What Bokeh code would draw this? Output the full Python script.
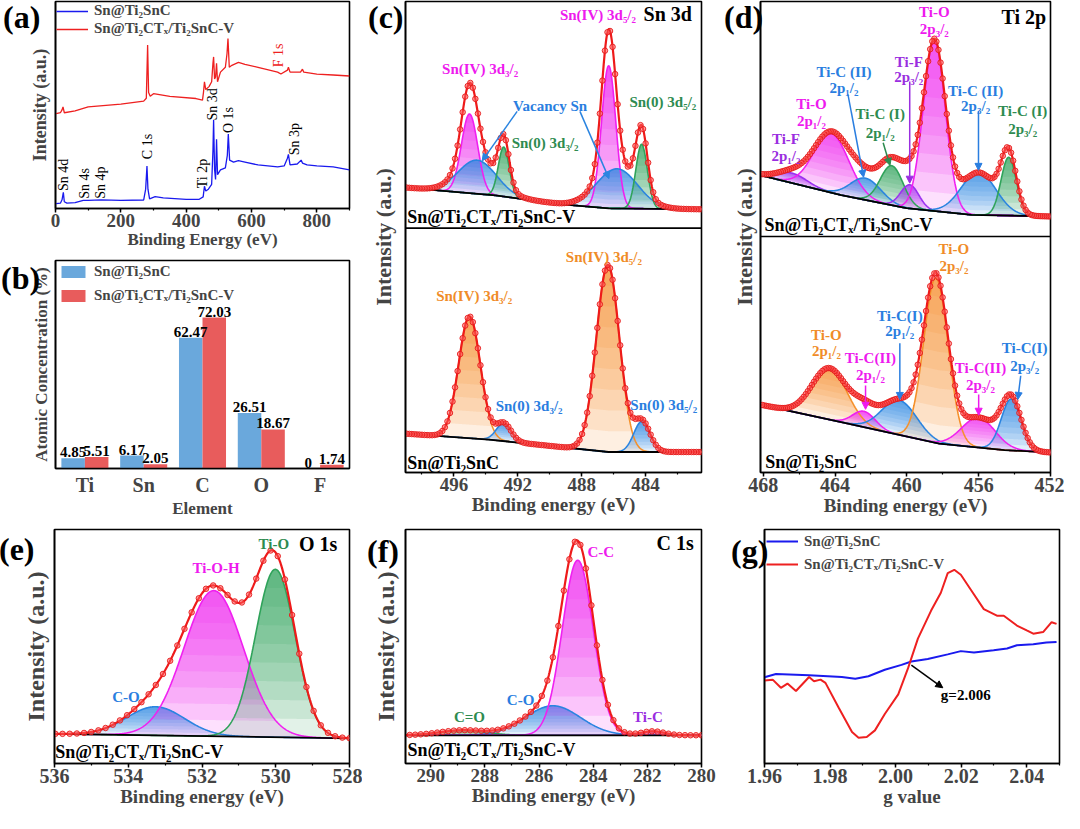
import numpy as np
from bokeh.plotting import figure
from bokeh.layouts import row, column
from bokeh.models import (Range1d, FactorRange, SingleIntervalTicker, FixedTicker, Span, Div,
                          Arrow, NormalHead, Legend, LegendItem, ColumnDataSource, NumeralTickFormatter)
from bokeh.transform import dodge
from bokeh.core.properties import value
from bokeh.embed import file_html
from bokeh.resources import INLINE

FONT = "Liberation Serif"

# ================= DATA =================
# (a) XPS survey (binding energy eV, intensity a.u.)
survey_be_ti2snc = [2, 15, 20, 24, 27, 35, 60, 85, 100, 140, 200, 270, 276, 280, 283, 288, 305, 330, 400, 440,
                    452, 456, 460, 468, 478, 482, 484, 487, 490, 493, 496, 505, 520, 526, 529, 533, 545, 560, 580, 620,
                    680, 700, 710, 713, 718, 740, 752, 756, 770, 800, 850, 900]
survey_ti2snc = [5, 5.5, 9, 16.7, 7, 5.5, 6, 8.3, 8.5, 9, 8.5, 8.8, 20, 44, 20, 10, 12.3, 11, 9.5, 9.5,
                 12, 23, 18, 20, 25, 60, 91.7, 40, 30, 71.7, 35, 40, 42, 55, 77, 50, 48, 49.5, 48, 45,
                 43, 44, 52, 56, 45, 46, 50, 47, 45, 44, 43, 40]
survey_be_v = [2, 15, 20, 23, 27, 60, 100, 200, 270, 278, 282, 285, 290, 300, 350, 430, 450, 453, 456, 460,
               470, 478, 482, 484, 487, 490, 493, 496, 505, 520, 525, 528, 532, 540, 560, 580, 620, 680, 690, 710,
               713, 718, 750, 756, 760, 800, 850, 900]
survey_v = [98, 99, 102, 105, 99, 101, 105, 108, 111, 114, 169, 120, 116, 118.7, 116, 113.7, 112, 120, 131, 123,
            126, 131, 150, 156.7, 134, 136, 150, 131, 141, 146, 160, 175.7, 146, 148, 151, 149, 146, 141, 139, 143,
            146, 141, 141, 144, 141, 139, 138, 137]
survey_peak_names = ["Sn 4d", "Sn 4s", "Sn 4p", "C 1s", "Ti 2p", "Sn 3d", "O 1s", "Sn 3p"]
survey_peak_be = [24, 88, 138, 282, 450, 482, 531, 731]
survey_peak_y = [18, 10, 10, 51, 21, 91, 78, 55]

# (b) atomic concentration (%)
elements = ["Ti", "Sn", "C", "O", "F"]
conc_ti2snc = [4.85, 6.17, 62.47, 26.51, 0]
conc_v = [5.51, 2.05, 72.03, 18.67, 1.74]

# (c) Sn 3d fits: upper = Sn@Ti2CTx/Ti2SnC-V, lower = Sn@Ti2SnC
sn_v_base_be = [499.03, 493.4, 489.23, 486.31, 480.5]
sn_v_base = [288, 280, 271, 267, 266]
sn_v_center = [495.02, 494.54, 492.88, 486.31, 485.79, 484.25]
sn_v_height = [80, 34, 50, 144, 40, 65]
sn_v_fwhm = [1.2, 2.8, 0.8, 1.05, 3.0, 0.85]
sn_base_be = [499.03, 493.81, 486.31, 480.5]
sn_base = [39.3, 33.3, 20.7, 20.7]
sn_center = [495.02, 492.88, 486.36, 484.23]
sn_height = [123, 18, 189, 31]
sn_fwhm = [1.6, 1.1, 1.7, 1.2]

# (d) Ti 2p fits
ti_v_base_be = [468.15, 463.66, 460.02, 456.4, 452]
ti_v_base = [301, 281, 267.7, 261, 259.3]
ti_v_center = [466.4, 464.21, 462.3, 460.84, 459.84, 458.47, 456.01, 454.33]
ti_v_height = [10, 60, 22, 40, 24, 172, 43, 59]
ti_v_fwhm = [2.0, 2.3, 2.0, 1.5, 1.2, 1.45, 2.3, 1.0]
ti_base_be = [468.15, 463.66, 458.2, 454.56, 452]
ti_base = [68.7, 51, 29.3, 22.7, 20.3]
ti_center = [464.3, 462.39, 460.42, 458.38, 456.01, 454.19]
ti_height = [52, 16, 35, 167, 30, 52]
ti_fwhm = [2.3, 1.5, 2.3, 1.6, 2.2, 1.3]

# (e) O 1s fits
o_base_be = [536, 528]
o_base = [30, 25.5]
o_center = [533.26, 531.68, 530.01]
o_height = [29, 147.5, 170]
o_fwhm = [1.85, 1.9, 1.27]

# (f) C 1s fits
c_base_be = [290.93, 280]
c_base = [28.7, 28.7]
c_center = [288.83, 285.49, 284.57, 281.79]
c_height = [5, 30, 178, 4]
c_fwhm = [2.0, 2.4, 1.35, 1.0]

# (g) EPR
epr_g_ti2snc = [1.9600, 1.9635, 1.9736, 1.9836, 1.9877, 1.9917, 1.9967, 2.0018, 2.0048, 2.0098, 2.0159,
                2.0199, 2.0239, 2.0299, 2.0340, 2.0370, 2.0420, 2.0460, 2.0491]
epr_ti2snc = [87.7, 91, 89.7, 88, 86.3, 88.7, 95.3, 100.3, 103.7, 106.3, 111, 114.3, 113, 115.3, 117,
              120.3, 121.3, 123, 123.7]
epr_g_v = [1.9600, 1.9625, 1.9650, 1.9670, 1.9696, 1.9736, 1.9751, 1.9771, 1.9786, 1.9826, 1.9867, 1.9887,
           1.9912, 1.9937, 1.9967, 2.0008, 2.0038, 2.0068, 2.0108, 2.0138, 2.0159, 2.0179, 2.0199, 2.0229,
           2.0269, 2.0309, 2.0330, 2.0370, 2.0400, 2.0420, 2.0450, 2.0476, 2.0491]
epr_v = [84.3, 85.3, 77, 81.3, 73.7, 88, 83.7, 85.3, 82, 57, 32, 26.3, 27, 33.7, 50.3, 70.3, 97, 127, 155.3,
         173.7, 193.7, 197, 192, 177, 157, 150.3, 150.3, 140.3, 135.3, 132, 133.7, 143.7, 142]

NAME_A = "Sn@Ti₂SnC"
NAME_B = "Sn@Ti₂CTₓ/Ti₂SnC-V"
panel_letters = ["(a)", "(b)", "(c)", "(d)", "(e)", "(f)", "(g)"]

# ================= STYLE =================
SURV_BLUE = "#1a1aee"
SURV_RED = "#ee2020"
BAR_BLUE = "#6aa8dc"
BAR_RED = "#e85c5c"
MAG = "#f020f0"
BLUE = "#2a84e0"
GREEN = "#2fa35a"
ORANGE = "#f5902a"
PURPLE = "#9b30f0"
MAGT = "#ee1aee"
BLUET = "#2a7ee0"
GREENT = "#2e8b50"
ORANGET = "#f08c28"
PURT = "#9a2ee0"
ENV = "#ee1a1a"
LN4 = 4 * np.log(2)


def new_fig(w, h, bl, br, bt, bb, xr, yr):
    p = figure(width=w, height=h, x_range=xr, y_range=yr, output_backend="svg",
               toolbar_location=None, min_border_left=bl, min_border_right=br,
               min_border_top=bt, min_border_bottom=bb)
    p.xgrid.visible = False
    p.ygrid.visible = False
    p.outline_line_color = "black"
    p.outline_line_width = 1.6
    p.outline_line_alpha = 1.0
    p.background_fill_color = "white"
    p.border_fill_color = "white"
    return p


def style_x(p, label, tick_size="19px", title_size="19px", ticker=None, fmt=None):
    ax = p.xaxis[0]
    ax.axis_label = label
    ax.axis_label_text_font = FONT
    ax.axis_label_text_font_style = "bold"
    ax.axis_label_text_font_size = title_size
    ax.axis_label_standoff = 0
    ax.major_label_text_font = FONT
    ax.major_label_text_font_style = "bold"
    ax.major_label_text_font_size = tick_size
    ax.major_label_standoff = 1
    ax.axis_line_width = 1.6
    ax.major_tick_line_width = 1.5
    ax.minor_tick_line_width = 1.2
    ax.major_tick_out = 4
    ax.major_tick_in = 0
    ax.minor_tick_out = 2
    ax.minor_tick_in = 0
    if ticker is not None:
        ax.ticker = ticker
    if fmt is not None:
        ax.formatter = fmt


def style_y(p, label, size="18px", standoff=6):
    ax = p.yaxis[0]
    ax.ticker = FixedTicker(ticks=[])
    ax.major_label_text_font_size = "0px"
    ax.major_tick_out = 0
    ax.major_tick_in = 0
    ax.minor_tick_out = 0
    ax.minor_tick_in = 0
    ax.axis_line_width = 1.6
    ax.axis_label = label
    ax.axis_label_text_font = FONT
    ax.axis_label_text_font_style = "bold"
    ax.axis_label_text_font_size = size
    ax.axis_label_standoff = standoff


def letter_div(txt, left, top):
    # panel letter, absolutely positioned over the layout (page offset of 8px removed)
    return Div(text=txt, width=48, height=36,
               styles={"position": "absolute", "left": f"{left - 8}px", "top": f"{top - 8}px",
                       "font-family": FONT, "font-weight": "bold", "font-size": "32px",
                       "line-height": "1", "color": "black", "z-index": "10"})


def texts(p, xs, ys, labels, color, size="15px", align="center", baseline="middle",
          style="bold", angle=0.0):
    src = ColumnDataSource(dict(x=xs, y=ys, t=labels))
    p.text(x="x", y="y", text="t", source=src, text_font=value(FONT), text_font_style=style,
           text_font_size=size, text_color=color, text_align=align, text_baseline=baseline,
           angle=angle)


def arrow(p, x0, y0, x1, y1, color):
    p.add_layout(Arrow(end=NormalHead(size=7, fill_color=color, line_color=color),
                       x_start=x0, y_start=y0, x_end=x1, y_end=y1,
                       line_color=color, line_width=1.5))


def gradient(p, x, lo, g, h, col, n=9, a=0.14):
    hi = lo + g
    for k in range(n):
        y1 = lo + np.minimum(h * k / n, g)
        p.varea(x=x, y1=y1, y2=hi, fill_color=col, fill_alpha=a)


def spectrum(p, xlo, xhi, base_x, base_y, centers, heights, fwhms, colors, dot_ev, npts=700):
    x = np.linspace(xlo, xhi, npts)
    bx = np.array(base_x, dtype=float)
    by = np.array(base_y, dtype=float)
    order = np.argsort(bx)
    base = np.interp(x, bx[order], by[order])
    total = base.copy()
    tops = []
    for c, h, w, col in zip(centers, heights, fwhms, colors):
        g = h * np.exp(-LN4 * ((x - c) / w) ** 2)
        gradient(p, x, base, g, h, col)
        tops.append((base + g, col))
        total = total + g
    for top, col in tops:
        p.line(x, top, line_color=col, line_width=1.6)
    p.line(base_x, base_y, line_color="black", line_width=1.8)
    p.line(x, total, line_color=ENV, line_width=2.2)
    step = max(1, int(round(dot_ev / ((xhi - xlo) / (npts - 1)))))
    p.scatter(x[::step], total[::step], marker="circle", size=5.5, fill_color="#ff5a5a",
              fill_alpha=0.55, line_color="#e51a1a", line_width=0.9)


def legend(p, items, gw, gh, lh, spacing, margin, padding, size="14px"):
    lg = Legend(items=items, location="top_left", glyph_width=gw, glyph_height=gh,
                label_height=lh, spacing=spacing, margin=margin, padding=padding,
                label_standoff=6, label_text_font=FONT, label_text_font_style="bold",
                label_text_font_size=size, border_line_color=None, background_fill_alpha=0)
    p.add_layout(lg)


# ================= (a) =================
pa = new_fig(362, 254, 55, 13, 1, 46, Range1d(0, 900), Range1d(0, 214))
ra1 = pa.line(survey_be_ti2snc, survey_ti2snc, line_color=SURV_BLUE, line_width=1.3)
ra2 = pa.line(survey_be_v, survey_v, line_color=SURV_RED, line_width=1.3)
style_x(pa, "Binding Energy (eV)", tick_size="19px", title_size="17px",
        ticker=SingleIntervalTicker(interval=200, num_minor_ticks=2))
style_y(pa, "Intensity (a.u.)", size="18px", standoff=6)
texts(pa, survey_peak_be, survey_peak_y, survey_peak_names, "black", size="14px",
      align="left", style="normal", angle=np.pi / 2)
texts(pa, [682.6], [146], ["F 1s"], SURV_RED, size="14px", align="left", style="normal",
      angle=np.pi / 2)
legend(pa, [LegendItem(label=NAME_A, renderers=[ra1]), LegendItem(label=NAME_B, renderers=[ra2])],
       32, 16, 16, 1, 1, 1, size="15px")

# ================= (b) =================
pb = new_fig(362, 266, 55, 13, 6, 46, FactorRange(factors=elements), Range1d(0, 99.3))
src_b = ColumnDataSource(dict(el=elements, a=conc_ti2snc, b=conc_v,
                              al=[str(v) for v in conc_ti2snc], bl=[str(v) for v in conc_v]))
rb1 = pb.vbar(x=dodge("el", -0.2, range=pb.x_range), top="a", width=0.4, source=src_b,
              fill_color=BAR_BLUE, line_color=None)
rb2 = pb.vbar(x=dodge("el", 0.2, range=pb.x_range), top="b", width=0.4, source=src_b,
              fill_color=BAR_RED, line_color=None)
pb.text(x=dodge("el", -0.2, range=pb.x_range), y="a", text="al", source=src_b, y_offset=-1,
        text_font=value(FONT), text_font_style="bold", text_font_size="15px",
        text_align="center", text_baseline="bottom", text_color="black")
pb.text(x=dodge("el", 0.2, range=pb.x_range), y="b", text="bl", source=src_b, y_offset=-1,
        text_font=value(FONT), text_font_style="bold", text_font_size="15px",
        text_align="center", text_baseline="bottom", text_color="black")
style_x(pb, "Element", tick_size="20px", title_size="17px")
pb.xaxis[0].major_tick_line_color = None
pb.xaxis[0].minor_tick_line_color = None
style_y(pb, "Atomic Concentration (%)", size="17px", standoff=5)
legend(pb, [LegendItem(label=NAME_A, renderers=[rb1]), LegendItem(label=NAME_B, renderers=[rb2])],
       30, 15, 15, 7, 3, 2, size="15px")

# ================= (c) =================
pc = new_fig(360, 520, 43, 21, 1, 48, Range1d(499.03, 480.5), Range1d(0, 476))
spectrum(pc, 480.5, 499.03, sn_base_be, sn_base, sn_center, sn_height, sn_fwhm,
         [ORANGE, BLUE, ORANGE, BLUE], 0.15)
spectrum(pc, 480.5, 499.03, sn_v_base_be, sn_v_base, sn_v_center, sn_v_height, sn_v_fwhm,
         [MAG, BLUE, GREEN, MAG, BLUE, GREEN], 0.15)
pc.add_layout(Span(location=247, dimension="width", line_color="black", line_width=1.6))
style_x(pc, "Binding energy (eV)", tick_size="19px", title_size="19px",
        ticker=SingleIntervalTicker(interval=4, num_minor_ticks=2))
style_y(pc, "Intensity (a.u.)", size="22px", standoff=10)
texts(pc, [494.36, 486.98], [408, 462], ["Sn(IV) 3d₃/₂", "Sn(IV) 3d₅/₂"], MAGT)
texts(pc, [489.98], [370], ["Vacancy Sn"], BLUET)
texts(pc, [490.29, 482.92], [333, 374], ["Sn(0) 3d₃/₂", "Sn(0) 3d₅/₂"], GREENT)
texts(pc, [482.61], [463], ["Sn 3d"], "black", size="20px")
arrow(pc, 492.04, 365, 494.23, 315, BLUE)
arrow(pc, 488.11, 365, 486.29, 297, BLUE)
texts(pc, [494.73, 486.61], [178, 218], ["Sn(IV) 3d₃/₂", "Sn(IV) 3d₅/₂"], ORANGET)
texts(pc, [491.29, 482.86], [67, 68], ["Sn(0) 3d₃/₂", "Sn(0) 3d₅/₂"], BLUET)
texts(pc, [498.92, 498.92], [258, 10], [NAME_B, NAME_A], "black", size="18px", align="left")

# ================= (d) =================
pd = new_fig(342, 520, 38, 14, 1, 48, Range1d(468.15, 452), Range1d(0, 477))
spectrum(pd, 452, 468.15, ti_base_be, ti_base, ti_center, ti_height, ti_fwhm,
         [ORANGE, MAG, BLUE, ORANGE, MAG, BLUE], 0.12)
spectrum(pd, 452, 468.15, ti_v_base_be, ti_v_base, ti_v_center, ti_v_height, ti_v_fwhm,
         [PURPLE, MAG, BLUE, GREEN, PURPLE, MAG, BLUE, GREEN], 0.12)
pd.add_layout(Span(location=239, dimension="width", line_color="black", line_width=1.6))
style_x(pd, "Binding energy (eV)", tick_size="20px", title_size="19px",
        ticker=SingleIntervalTicker(interval=4, num_minor_ticks=2))
style_y(pd, "Intensity (a.u.)", size="22px", standoff=4)
d_up = [(458.47, 466, 449, "Ti-O", "2p₃/₂", MAGT),
        (459.89, 416, 401, "Ti-F", "2p₃/₂", PURT),
        (463.5, 406, 389, "Ti-C (II)", "2p₁/₂", BLUET),
        (465.31, 373, 356, "Ti-O", "2p₁/₂", MAGT),
        (461.48, 363, 344, "Ti-C (I)", "2p₁/₂", GREENT),
        (466.73, 338, 321, "Ti-F", "2p₁/₂", PURT),
        (456.17, 386, 371, "Ti-C (II)", "2p₃/₂", BLUET),
        (453.55, 366, 348, "Ti-C (I)", "2p₃/₂", GREENT)]
d_lo = [(457.38, 226, 209, "Ti-O", "2p₃/₂", ORANGET),
        (464.48, 139, 123, "Ti-O", "2p₁/₂", ORANGET),
        (460.39, 159, 143, "Ti-C(I)", "2p₁/₂", BLUET),
        (462.03, 116, 99, "Ti-C(II)", "2p₁/₂", MAGT),
        (455.9, 106, 89, "Ti-C(II)", "2p₃/₂", MAGT),
        (453.44, 126, 108, "Ti-C(I)", "2p₃/₂", BLUET)]
for xx, y1, y2, t1, t2, col in d_up + d_lo:
    texts(pd, [xx, xx], [y1, y2], [t1, t2], col)
arrow(pd, 459.84, 396, 459.84, 293, PURT)
arrow(pd, 463.28, 383, 462.41, 299, BLUET)
arrow(pd, 461.32, 334, 460.94, 311, GREENT)
arrow(pd, 456.01, 366, 456.01, 306, BLUET)
arrow(pd, 460.39, 131, 460.39, 74, BLUET)
arrow(pd, 462.3, 88, 462.3, 64, MAGT)
arrow(pd, 456.0, 79, 456.0, 58, MAGT)
arrow(pd, 453.66, 98, 453.82, 74, BLUET)
texts(pd, [453.49], [461], ["Ti 2p"], "black", size="20px")
texts(pd, [467.93, 467.88], [251, 11], [NAME_B, NAME_A], "black", size="18px", align="left")

# ================= (e) =================
pe = new_fig(362, 291, 54, 13, 8, 48, Range1d(536, 528), Range1d(0, 237))
spectrum(pe, 528, 536, o_base_be, o_base, o_center, o_height, o_fwhm, [BLUE, MAG, GREEN], 0.2)
style_x(pe, "Binding energy (eV)", tick_size="20px", title_size="19px",
        ticker=SingleIntervalTicker(interval=2, num_minor_ticks=2))
style_y(pe, "Intensity (a.u.)", size="24px", standoff=6)
texts(pe, [528.85], [222], ["O 1s"], "black", size="20px")
texts(pe, [530.05], [222], ["Ti-O"], GREENT)
texts(pe, [531.62], [198], ["Ti-O-H"], MAGT)
texts(pe, [534.06], [67], ["C-O"], BLUET)
texts(pe, [535.98], [12], [NAME_B], "black", size="18px", align="left")

# ================= (f) =================
pf = new_fig(365, 291, 43, 26, 9, 48, Range1d(290.93, 280), Range1d(0, 238))
spectrum(pf, 280, 290.93, c_base_be, c_base, c_center, c_height, c_fwhm,
         [GREEN, BLUE, MAG, PURPLE], 0.2)
style_x(pf, "Binding energy (eV)", tick_size="19px", title_size="19px",
        ticker=SingleIntervalTicker(interval=2, num_minor_ticks=2))
style_y(pf, "Intensity (a.u.)", size="24px", standoff=7)
texts(pf, [280.97], [224], ["C 1s"], "black", size="20px")
texts(pf, [283.72], [215], ["C-C"], MAGT)
texts(pf, [286.68], [65], ["C-O"], BLUET)
texts(pf, [288.57], [47], ["C=O"], GREENT)
texts(pf, [281.98], [47], ["Ti-C"], PURT)
texts(pf, [290.86], [14], [NAME_B], "black", size="18px", align="left")

# ================= (g) =================
pg = new_fig(337, 291, 37, 5, 9, 48, Range1d(1.96, 2.05), Range1d(0, 238))
rg1 = pg.line(epr_g_ti2snc, epr_ti2snc, line_color=SURV_BLUE, line_width=2)
rg2 = pg.line(epr_g_v, epr_v, line_color=SURV_RED, line_width=2)
style_x(pg, "g value", tick_size="20px", title_size="19px",
        ticker=SingleIntervalTicker(interval=0.02, num_minor_ticks=2),
        fmt=NumeralTickFormatter(format="0.00"))
style_y(pg, None)
texts(pg, [2.0214], [70], ["g=2.006"], "black", size="15px")
arrow(pg, 2.0048, 100, 2.0144, 77, "black")
legend(pg, [LegendItem(label=NAME_A, renderers=[rg1]), LegendItem(label=NAME_B, renderers=[rg2])],
       32, 20, 20, 3, 2, 4, size="15px")

letter_pos = [(6, 4), (4, 265), (371, 4), (727, 4), (2, 536), (370, 538), (734, 538)]
divs = [letter_div(t, x, y) for t, (x, y) in zip(panel_letters, letter_pos)]

layout = column(row(column(pa, pb), pc, pd), row(pe, pf, pg), *divs,
                styles={"position": "relative"})
open("out.html", "w").write(file_html(layout, INLINE, "XPS"))
